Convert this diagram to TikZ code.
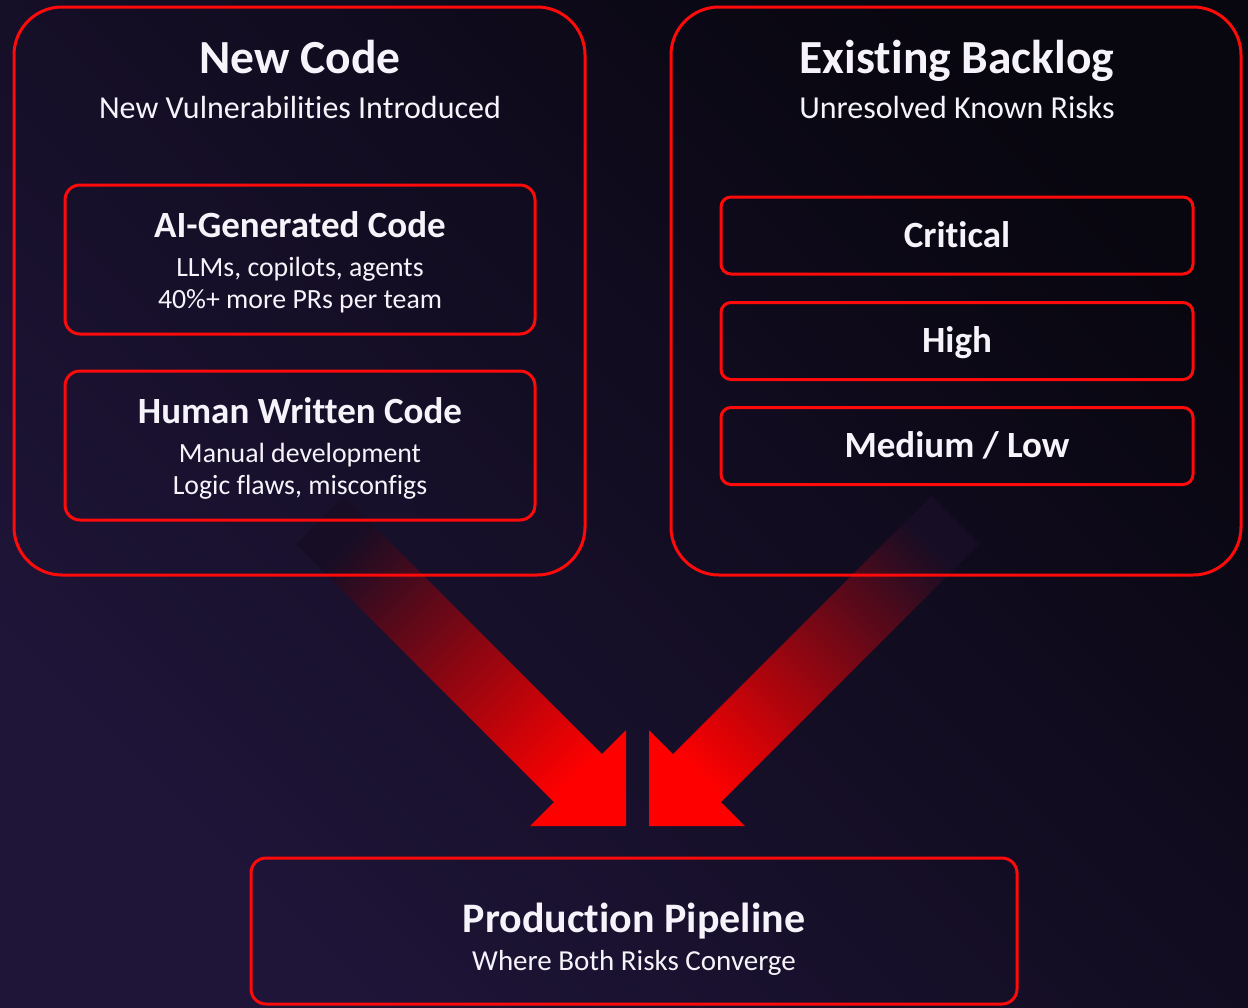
\documentclass[tikz,border=0pt]{standalone}
\usepackage{fontspec}
\setmainfont{Carlito}[Ligatures={NoCommon}]
\definecolor{bgdark}{HTML}{08060F}
\definecolor{bglight}{HTML}{1F1539}
\definecolor{boxred}{HTML}{FF0A0A}
\definecolor{txt}{HTML}{F6F4FA}
\definecolor{arrstart}{HTML}{170D24}
\definecolor{arrmid}{HTML}{600A1A}
\definecolor{arrend}{HTML}{FF0000}
\begin{document}
\begin{tikzpicture}[x=1pt,y=-1pt,
  outerbox/.style={draw=boxred, line width=3pt, rounded corners=48pt},
  innerbox/.style={draw=boxred, line width=3pt, rounded corners=15pt},
  levelbox/.style={draw=boxred, line width=3pt, rounded corners=10pt, minimum width=472pt, minimum height=77pt},
  txtbase/.style={text=txt, anchor=base, inner sep=0pt},
  bigtitle/.style={txtbase, font=\fontsize{47.5}{55}\selectfont\bfseries},
  subtitle/.style={txtbase, font=\fontsize{32}{37}\selectfont},
  itemtitle/.style={txtbase, font=\fontsize{37}{42}\selectfont\bfseries},
  itemline/.style={txtbase, font=\fontsize{27.8}{32}\selectfont},
  leveltext/.style={txtbase, font=\fontsize{37}{42}\selectfont\bfseries},
  prodtitle/.style={txtbase, font=\fontsize{42}{48}\selectfont\bfseries},
  prodline/.style={txtbase, font=\fontsize{29}{34}\selectfont}
]
\useasboundingbox (0,0) rectangle (1248,1007);
\shade[top color=bgdark, bottom color=bglight, shading angle=-45] (0,0) rectangle (1248,1007);

% arrows
\coordinate (ltip) at (626,826);
\coordinate (rtip) at (649,826);
\shade[top color=arrstart, middle color=arrmid, bottom color=arrend, shading angle=45]
  (344,496) -- (602,754) -- (626,730) -- (ltip) -- (530,826) -- (554,802) -- (296,544) -- cycle;
\shade[top color=arrstart, middle color=arrmid, bottom color=arrend, shading angle=-45]
  (931,496) -- (673,754) -- (649,730) -- (rtip) -- (745,826) -- (721,802) -- (979,544) -- cycle;

% boxes
\node[outerbox, minimum width=571pt, minimum height=568pt] (newbox) at (299.5,291) {};
\node[outerbox, minimum width=570pt, minimum height=568pt] (backbox) at (956,291) {};
\node[innerbox, minimum width=470pt, minimum height=149pt] (aibox) at (300,259.5) {};
\node[innerbox, minimum width=470pt, minimum height=149pt] (humanbox) at (300,445.5) {};
\node[levelbox] (critbox) at (957,235.5) {};
\node[levelbox] (highbox) at (957,341) {};
\node[levelbox] (medbox) at (957,446) {};
\node[innerbox, minimum width=766pt, minimum height=146pt] (prodbox) at (634,931) {};

% texts
\node[bigtitle] (t1) at (300,73) {New Code};
\node[subtitle] (s1) at (300,118) {New Vulnerabilities Introduced};
\node[bigtitle] (t2) at (957,73) {Existing Backlog};
\node[subtitle] (s2) at (957,118) {Unresolved Known Risks};

\node[itemtitle] (ai) at (300,237) {AI-Generated Code};
\node[itemline] (ai1) at (300,276) {LLMs, copilots, agents};
\node[itemline] (ai2) at (300,308) {40\%+ more PRs per team};

\node[itemtitle] (hu) at (300,423) {Human Written Code};
\node[itemline] (hu1) at (300,462) {Manual development};
\node[itemline] (hu2) at (300,494) {Logic flaws, misconfigs};

\node[leveltext] (crit) at (957,247) {Critical};
\node[leveltext] (high) at (957,352) {High};
\node[leveltext] (med) at (957,457) {Medium / Low};

\node[prodtitle] (prod) at (634,932) {Production Pipeline};
\node[prodline] (prod1) at (634,970) {Where Both Risks Converge};
\end{tikzpicture}
\end{document}
